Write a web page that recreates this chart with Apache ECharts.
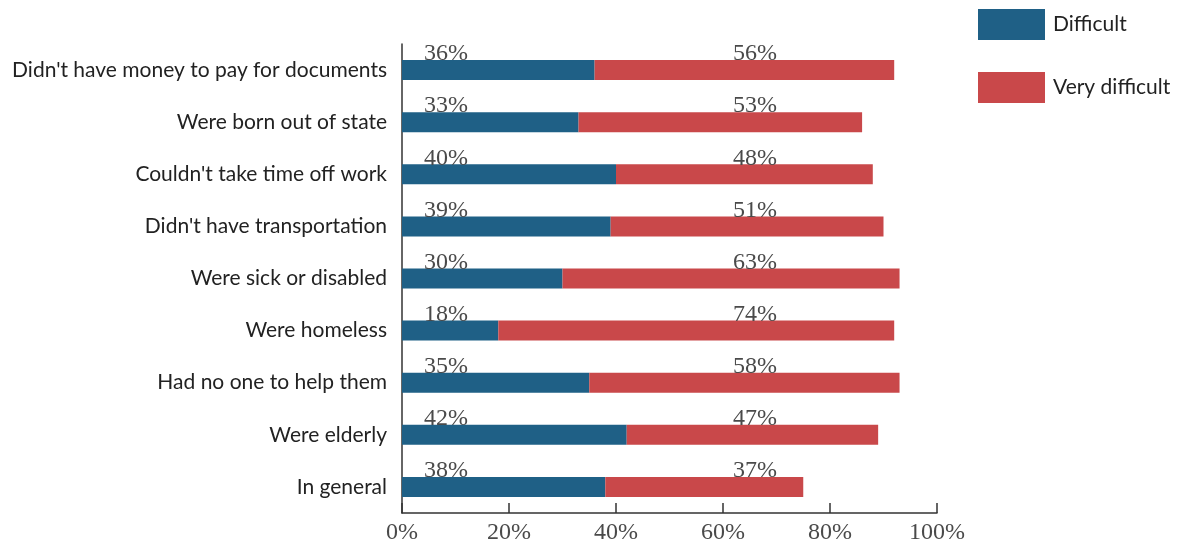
<!DOCTYPE html>
<html>
<head>
<meta charset="utf-8">
<script src="https://cdn.jsdelivr.net/npm/echarts@6/dist/echarts.min.js"></script>
<style>
  html, body { margin: 0; padding: 0; background: #fff; }
  #chart { width: 1180px; height: 546px; }
</style>
</head>
<body>
<div id="chart"></div>
<script>
// Reasons people found it hard to get an ID
const categories = [
  "Didn't have money to pay for documents",
  "Were born out of state",
  "Couldn't take time off work",
  "Didn't have transportation",
  "Were sick or disabled",
  "Were homeless",
  "Had no one to help them",
  "Were elderly",
  "In general"
];
const difficult = [36, 33, 40, 39, 30, 18, 35, 42, 38];
const veryDifficult = [56, 53, 48, 51, 63, 74, 58, 47, 37];
const seriesNames = ["Difficult", "Very difficult"];
const xTicks = [0, 20, 40, 60, 80, 100];

const BLUE = '#1f6086';
const RED = '#c9484a';
const SERIF = '"Liberation Serif", "DejaVu Serif", serif';
const SANS = 'Lato, "Noto Sans", sans-serif';

const chart = echarts.init(document.getElementById('chart'), null, { renderer: 'canvas' });

chart.setOption({
  animation: false,
  grid: { left: 402, right: 243, top: 44, bottom: 33, containLabel: false },
  legend: {
    orient: 'vertical',
    left: 978,
    top: 9,
    padding: 0,
    itemWidth: 67,
    itemHeight: 31,
    itemGap: 32,
    icon: 'rect',
    textStyle: { fontFamily: SANS, fontSize: 21, color: '#222', padding: [6, 0, 0, 3] },
    data: seriesNames
  },
  xAxis: {
    type: 'value',
    min: xTicks[0],
    max: xTicks[xTicks.length - 1],
    interval: 20,
    splitLine: { show: false },
    axisLine: { show: true, lineStyle: { color: '#333', width: 1.5 } },
    axisTick: { show: true, inside: true, length: 10, lineStyle: { color: '#333', width: 1.5 } },
    axisLabel: {
      formatter: '{value}%',
      fontFamily: SERIF,
      fontSize: 24,
      color: '#4a4a4a',
      margin: 8
    }
  },
  yAxis: {
    type: 'category',
    inverse: true,
    data: categories,
    axisLine: { show: true, lineStyle: { color: '#333', width: 1.5 } },
    axisTick: { show: false },
    axisLabel: { fontFamily: SANS, fontSize: 21, color: '#222', margin: 15, padding: [6, 0, 0, 0] }
  },
  series: [
    {
      name: seriesNames[0],
      type: 'bar',
      stack: 'total',
      barWidth: 20,
      itemStyle: { color: BLUE },
      data: difficult,
      label: {
        show: true,
        position: [22, 6],
        align: 'left',
        verticalAlign: 'bottom',
        formatter: p => `{a|${difficult[p.dataIndex]}%}{b|${veryDifficult[p.dataIndex]}%}`,
        rich: {
          a: { fontFamily: SERIF, fontSize: 24, color: '#4a4a4a', width: 309 },
          b: { fontFamily: SERIF, fontSize: 24, color: '#4a4a4a' }
        }
      }
    },
    {
      name: seriesNames[1],
      type: 'bar',
      stack: 'total',
      barWidth: 20,
      itemStyle: { color: RED },
      data: veryDifficult
    }
  ]
});
</script>
</body>
</html>
